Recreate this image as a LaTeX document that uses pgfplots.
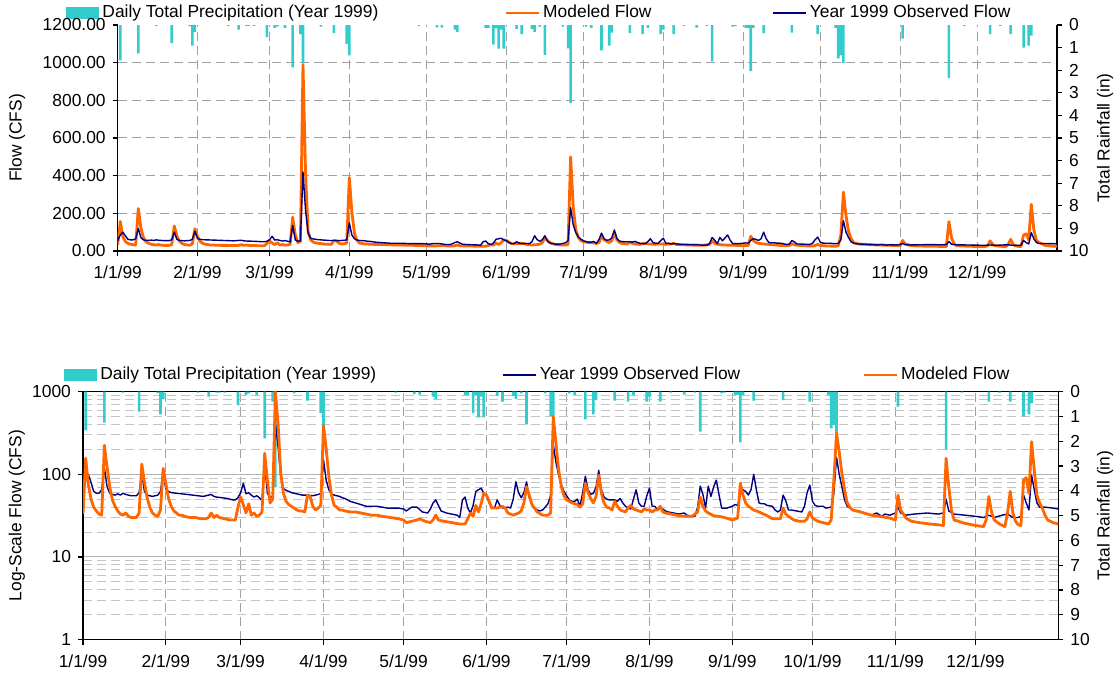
\documentclass[border=0pt]{standalone}
\usepackage{fontspec}
\setmainfont{Liberation Sans}
\usepackage{pgfplots}
\usepackage{pgfplotstable}
\pgfplotsset{compat=1.18}

\definecolor{rainc}{HTML}{33CCCC}
\definecolor{modelc}{HTML}{FF6600}
\definecolor{obsc}{HTML}{000080}
\definecolor{gridc}{HTML}{A0A0A0}
\definecolor{minorc}{HTML}{C4C4C4}
\newcommand{\chartfont}{\fontsize{8.7}{10.2}\selectfont}

% Modeled daily flow, 1999 (CFS); day counted from 1/1/99
\pgfplotstableread{
day flow
0 33
1 157
2 75
3 50
4 40
5 36
6 33
7 32
8 225
9 123
10 71
11 49
12 41
13 36
14 33
15 32
16 34
17 31
18 30
19 30
20 30
21 34
22 133
23 80
24 52
25 40
26 34
27 32
28 31
29 37
30 118
31 78
32 51
33 41
34 36
35 34
36 32
37 32
38 31
40 30
42 30
44 29
46 29
47 30
48 34
49 30
50 32
51 30
53 29
55 28
57 28
58 40
59 53
60 43
61 34
62 44
63 32
64 34
65 31
66 32
67 35
68 180
69 85
70 45
71 50
72 990
73 413
74 103
75 59
76 47
77 43
78 41
79 39
80 37
81 36
82 36
83 35
84 56
85 54
86 41
87 37
88 39
89 42
90 390
91 206
92 94
93 56
94 42
95 40
96 37
97 37
98 36
100 35
102 35
104 34
106 33
108 32
110 32
112 31
115 30
118 29
120 28
121 26
123 27
125 28
126 29
128 27
130 26
131 28
132 32
133 28
135 27
138 26
141 25
143 25
144 29
145 34
146 31
147 42
148 35
149 44
150 59
151 56
152 47
153 39
155 39
157 41
158 39
159 34
161 32
163 34
164 36
165 45
166 71
167 56
168 43
170 35
172 32
174 32
175 34
176 500
177 237
178 113
179 71
180 55
181 49
182 47
183 45
185 43
186 40
187 44
188 78
189 60
190 51
191 45
192 54
193 98
194 59
195 45
196 40
197 39
198 37
199 47
200 41
201 37
202 36
203 35
204 39
205 42
206 38
207 37
208 36
209 35
210 38
211 37
212 37
213 35
214 37
215 37
216 41
217 35
218 34
220 33
222 32
224 31
226 31
228 31
229 33
230 35
231 53
232 41
233 36
234 34
236 31.5
238 31
240 30
243 28
245 29.5
246 78
247 56
248 45
249 41
250 39
251 37
253 35
256 31.5
258 29
261 29
262 39
263 33
264 31
266 28
268 27
270 27
271 29
272 35
273 29.5
275 27
277 26
279 25
280 28
281 85
282 313
283 188
284 103
285 65
286 45
287 40
288 37
291 35
295 32
298 31
302 29.5
304 28
305 56
306 37
308 29.5
310 27
313 26
317 25
320 24.5
322 24
323 156
324 71
325 37
326 28
330 25.5
334 24
337 23.3
338 28
339 54
340 35
341 28
343 25
345 23.3
346 34
347 62
348 34
349 27
350 24.5
351 24
352 85
353 91
354 59
355 248
356 113
357 56
358 45
359 39
360 32
361 28
362 27
363 26
364 25.5
365 25
}\modeled

% Observed daily flow, 1999 (CFS)
\pgfplotstableread{
day flow
0 55
1 85
2 100
3 80
4 62
5 59
6 59
7 65
8 120
9 71
10 59
11 57
12 56
13 58
14 56
15 59
16 57
17 56
18 55
20 55
21 60
22 100
23 62
24 56
25 55
26 54
27 55
28 56
29 62
30 105
31 66
32 62
33 60
35 59
37 58
39 57
41 56
43 55
45 54
46 55
48 57
49 54
50 53
52 52
54 51
56 49
57 49
58 52
59 60
60 78
61 58
62 60
63 56
64 53
65 55
66 52
67 48
68 136
69 59
70 52
71 54
72 420
73 215
74 94
75 67
76 64
77 62
78 60
80 58
82 56
84 56
86 55
88 57
89 59
90 150
91 85
92 65
93 58
94 56
95 55
96 54
97 52
98 51
99 49
100 47
102 45
104 43
106 41
110 41
112 40
114 39
118 39
120 38
121 36
123 40
125 40
127 35
129 34
130 38
131 45
132 49
133 42
134 36
136 34
138 33
140 32
141 30
142 49
143 53
144 39
145 34
146 42
147 62
148 65
149 68
150 59
151 55
152 45
153 40
154 39
155 49
156 42
157 39
159 40
160 39
161 50
162 81
163 60
164 52
165 60
166 81
167 52
168 43
169 39
170 37
171 36
172 37
173 40
174 44
175 55
176 230
177 140
178 98
179 75
180 62
181 55
182 49
183 47
184 47
185 50
186 41
187 60
188 95
189 65
190 57
191 59
192 70
193 112
194 65
195 53
196 50
197 49
199 49
200 47
201 51
202 45
203 41
204 39
205 38
206 50
207 65
208 45
209 41
210 41
211 55
212 68
213 41
214 41
215 37
216 39
217 38
218 36
219 35
221 34
223 33
225 34
226 32
228 31
229 31
230 40
231 72
232 57
233 39
234 72
235 54
236 70
237 85
238 57
239 39
241 39
242 40
243 41
244 43
245 42
246 56
247 65
248 62
249 56
250 65
251 100
252 65
253 45
254 44
255 44
256 42
258 41
259 37
260 35
261 37
262 56
263 48
264 37
265 37
267 36
269 35
270 41
271 60
272 74
273 47
274 42
275 41
277 41
278 39
280 40
281 59
282 161
283 100
284 71
285 49
286 41
288 37
290 36
292 34
294 33
295 32
297 34
299 31
300 33
302 32
304 34
305 40
306 34
308 32
311 33
316 34
320 33
322 34
323 50
324 36
326 33
330 32
334 31
337 30
339 32
341 30
344 32
346 33
348 30
350 30
351 31
352 56
353 45
354 37
355 98
356 65
357 45
358 40
360 40
363 39
365 38
}\observed

% Daily precipitation (in), upper chart
\pgfplotstableread{
day rain
1 1.56
8 1.25
15 0.04
21 0.8
28 0.06
29 0.91
30 0.3
43 0.04
47 0.2
50 0.04
51 0.04
53 0.04
58 0.54
61 0.13
62 0.07
65 0.13
68 1.88
71 0.4
72 1.7
79 0.07
84 0.36
89 0.85
90 1.34
117 0.04
124 0.1
126 0.12
131 0.2
132 0.3
143 0.13
144 0.13
146 0.87
147 0.15
148 1.04
149 0.2
150 1.04
155 0.17
157 0.4
161 0.17
162 0.3
164 0.07
166 1.32
173 0.07
175 1.03
176 3.46
182 0.07
184 0.13
188 1.12
191 0.91
192 0.34
199 0.36
204 0.4
206 0.13
211 0.4
212 0.2
216 0.4
220 0.04
225 0.12
229 0.04
231 1.61
239 0.07
240 0.04
244 0.13
245 0.13
246 2.04
247 0.13
251 0.36
262 0.34
272 0.4
279 0.13
280 1.48
281 1.34
282 1.68
305 0.6
323 2.35
329 0.04
339 0.4
343 0.04
347 0.4
352 1.0
354 0.91
355 0.47
}\raintop

% Daily precipitation (in), lower chart
\pgfplotstableread{
day rain
1 1.56
8 1.25
15 0.04
21 0.8
28 0.06
29 0.91
30 0.3
43 0.04
47 0.2
50 0.04
51 0.04
53 0.04
58 0.54
61 0.13
62 0.07
65 0.13
68 1.88
71 0.4
72 3.86
79 0.07
84 0.36
89 0.85
90 1.34
117 0.04
124 0.1
126 0.12
131 0.2
132 0.3
143 0.13
144 0.13
146 0.87
147 0.15
148 1.04
149 0.2
150 1.04
155 0.17
157 0.4
161 0.17
162 0.3
164 0.07
166 1.32
173 0.07
175 0.98
176 0.98
182 0.07
184 0.13
188 1.12
191 0.91
192 0.34
199 0.36
204 0.4
206 0.13
211 0.4
212 0.2
216 0.4
220 0.04
225 0.12
229 0.04
231 1.61
239 0.07
240 0.04
244 0.13
245 0.13
246 2.04
247 0.13
251 0.36
262 0.34
272 0.4
279 0.13
280 1.48
281 1.34
282 1.68
305 0.6
323 2.35
329 0.04
339 0.4
343 0.04
347 0.4
352 1.0
354 0.91
355 0.47
}\rainbot

\pgfplotsset{
  panel/.style={
    scale only axis, xmin=0, xmax=365,
    font=\chartfont,
    /pgf/number format/assume math mode=true,
    tick align=outside,
    major tick length=2.5pt,
    minor tick length=0pt,
    axis line style={line width=0.6pt, black},
    every tick/.style={line width=0.6pt, black},
    xticklabel style={yshift=-1.5pt},
  },
  toppanel/.style={panel, at={(58.85pt,-125.5pt)}, anchor=south west,
    width=469.65pt, height=113pt},
  botpanel/.style={panel, at={(41.5pt,-319.75pt)}, anchor=south west,
    width=487.65pt, height=123.9pt},
  monthticks/.style={xtick={0,31,59,90,120,151,181,212,243,273,304,334}},
  monthlabels/.style={xticklabels={1/1/99,2/1/99,3/1/99,4/1/99,5/1/99,6/1/99,
      7/1/99,8/1/99,9/1/99,10/1/99,11/1/99,12/1/99}},
  gridonly/.style={axis line style={draw=none}, major tick length=0pt,
    xticklabels={}, yticklabels={}},
  dashgrid/.style={gridc, line width=0.5pt, dash pattern=on 4.5pt off 2.5pt},
  legend one/.style={legend style={draw=none, fill=none, inner sep=0pt,
      font=\chartfont, at={(axis description cs:#1)}, anchor=west,
      nodes={inner sep=1.5pt}}},
  swatch line/.style={legend image code/.code={\draw[##1] (0pt,0pt) -- (16.5pt,0pt);}},
  swatch bar/.style={legend image code/.code={\fill[rainc] (0pt,-3pt) rectangle (16.5pt,3pt);}},
  leftlabel/.style={every axis y label/.style={at={(axis description cs:#1,0.5)}, rotate=90, anchor=center}},
  modelline/.style={modelc, line width=1.4pt, line join=round},
  obsline/.style={obsc, line width=0.7pt, line join=round},
}

\begin{document}
\begin{tikzpicture}
\useasboundingbox (0pt,0pt) rectangle (559pt,-339.5pt);

% ---------------- upper chart: linear flow ----------------
\begin{axis}[toppanel, gridonly, ymin=0, ymax=1200, monthticks,
    ytick={200,400,600,800,1000}, xmajorgrids, ymajorgrids,
    grid style={dashgrid},
    legend one={0.4113,1.0531}, swatch line]
  \addlegendimage{modelline}
  \addlegendentry{Modeled Flow}
\end{axis}

\begin{axis}[toppanel, ymin=0, ymax=10, y dir=reverse,
    axis y line*=right, axis x line=none, ytick={0,1,...,10},
    ylabel={Total Rainfall (in)}, leftlabel=1.0511,
    ybar, bar width=1.0,
    legend one={-0.0550,1.0531}, swatch bar]
  \addplot[fill=rainc, draw=none, bar shift=0pt] table[x=day, y=rain] {\raintop};
  \addlegendentry{Daily Total Precipitation (Year 1999)}
\end{axis}

\begin{axis}[toppanel, ymin=0, ymax=1200, monthticks, monthlabels,
    ytick={0,200,...,1200},
    yticklabel style={/pgf/number format/.cd, fixed, fixed zerofill, precision=2, 1000 sep={}},
    axis x line*=bottom, axis y line*=left,
    x axis line style={line width=0.9pt},
    ylabel={Flow (CFS)}, leftlabel=-0.1072,
    legend one={0.6966,1.0531}, swatch line]
  \addplot[modelline, forget plot] table[x=day, y=flow] {\modeled};
  \addplot[obsline] table[x=day, y=flow] {\observed};
  \addlegendentry{Year 1999 Observed Flow}
\end{axis}

% ---------------- lower chart: log flow ----------------
\begin{axis}[botpanel, gridonly, ymode=log, ymin=1, ymax=1000, monthticks,
    ytick={1,10,100,1000}, xmajorgrids, grid style={dashgrid}]
\end{axis}

\begin{axis}[botpanel, gridonly, ymode=log, ymin=1, ymax=1000, xtick=\empty,
    ytick={10,100},
    minor ytick={2,3,4,5,6,7,8,9,20,30,40,50,60,70,80,90,200,300,400,500,600,700,800,900},
    ymajorgrids, yminorgrids,
    major grid style={gridc!80, line width=0.5pt},
    minor grid style={minorc, line width=0.5pt, dash pattern=on 4.5pt off 2.5pt},
    legend one={0.4296,1.0674}, swatch line]
  \addlegendimage{obsline}
  \addlegendentry{Year 1999 Observed Flow}
\end{axis}

\begin{axis}[botpanel, ymin=0, ymax=10, y dir=reverse,
    axis y line*=right, axis x line*=top, xtick=\empty, ytick={0,1,...,10},
    ylabel={Total Rainfall (in)}, leftlabel=1.0479,
    ybar, bar width=1.0,
    legend one={-0.0195,1.0674}, swatch bar]
  \addplot[fill=rainc, draw=none, bar shift=0pt] table[x=day, y=rain] {\rainbot};
  \addlegendentry{Daily Total Precipitation (Year 1999)}
\end{axis}

\begin{axis}[botpanel, ymode=log, ymin=1, ymax=1000, monthticks, monthlabels,
    ytick={1,10,100,1000}, yticklabels={1,10,100,1000},
    axis x line*=bottom, axis y line*=left,
    x axis line style={line width=0.9pt},
    ylabel={Log-Scale Flow (CFS)}, leftlabel=-0.0677,
    legend one={0.7987,1.0674}, swatch line]
  \addplot[obsline, forget plot] table[x=day, y=flow] {\observed};
  \addplot[modelline] table[x=day, y=flow] {\modeled};
  \addlegendentry{Modeled Flow}
\end{axis}
\end{tikzpicture}
\end{document}
